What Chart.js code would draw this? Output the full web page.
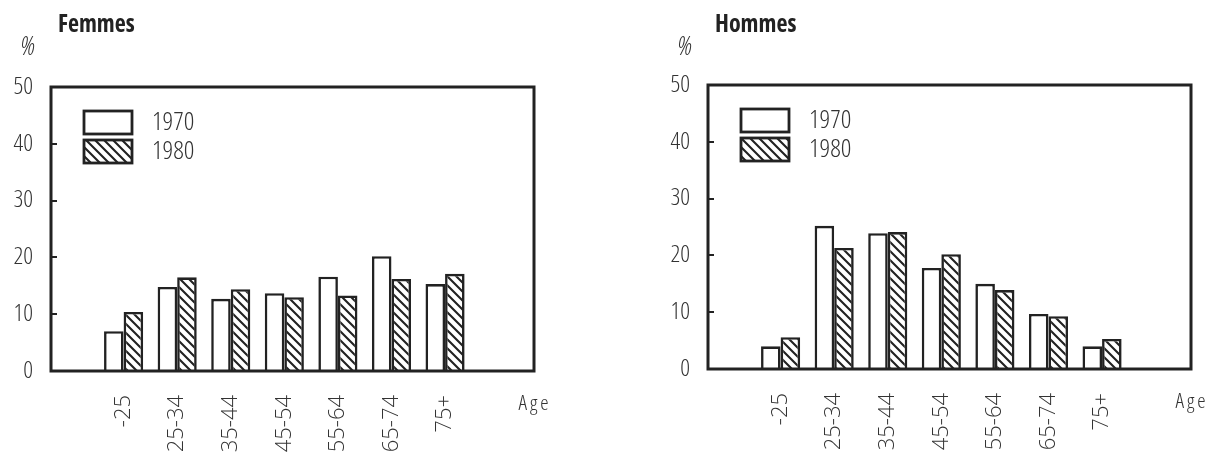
<!DOCTYPE html>
<html>
<head>
<meta charset="utf-8">
<script src="https://cdn.jsdelivr.net/npm/chart.js@4"></script>
<style>
  body { margin: 0; background: #fff; width: 1219px; height: 455px; overflow: hidden; position: relative; }
  .box { position: absolute; top: 0; height: 455px; }
</style>
</head>
<body>
<div class="box" style="left:0;width:620px"><canvas id="femmes"></canvas></div>
<div class="box" style="left:657px;width:562px"><canvas id="hommes"></canvas></div>
<script>
// donnees (%)
const ages = ["-25", "25-34", "35-44", "45-54", "55-64", "65-74", "75+"]
const years = ["1970", "1980"]
const femmes1970 = [7.0, 14.8, 12.7, 13.7, 16.6, 20.2, 15.3]
const femmes1980 = [10.4, 16.5, 14.4, 13.0, 13.3, 16.2, 17.1]
const hommes1970 = [4.0, 25.2, 23.9, 17.8, 15.0, 9.7, 4.0]
const hommes1980 = [5.6, 21.3, 24.1, 20.2, 13.9, 9.3, 5.3]
const yMax = 50
const yStep = 10

const ink = "#222"
const textColor = "#333"
const thin = '"Open Sans", "DejaVu Sans Condensed", sans-serif'

// motif hachure pour 1980
function hatch() {
    const c = document.createElement("canvas")
    c.width = 9
    c.height = 9
    const g = c.getContext("2d")
    g.fillStyle = "#fff"
    g.fillRect(0, 0, 9, 9)
    g.strokeStyle = ink
    g.lineWidth = 2.1
    g.beginPath()
    g.moveTo(-1, -1); g.lineTo(10, 10)
    g.moveTo(-1, 8); g.lineTo(1, 10)
    g.moveTo(8, -1); g.lineTo(10, 1)
    g.stroke()
    return g.createPattern(c, "repeat")
}

// cadre, textes et legende
const decor = {
    id: "decor",
    afterDraw(chart, args, opts) {
        const { ctx, chartArea: a } = chart
        ctx.save()
        ctx.strokeStyle = ink
        ctx.lineWidth = 3
        ctx.strokeRect(a.left, a.top, a.right - a.left, a.bottom - a.top)

        // legende
        chart.data.datasets.forEach((ds, i) => {
            const y = a.top + 24 + i * 29
            ctx.fillStyle = ds.backgroundColor
            ctx.fillRect(a.left + 33, y, 48, 23)
            ctx.lineWidth = 2.8
            ctx.strokeStyle = ink
            ctx.strokeRect(a.left + 33, y, 48, 23)
            ctx.fillStyle = textColor
            ctx.font = "normal 300 condensed 26px " + thin
            ctx.textAlign = "left"
            ctx.textBaseline = "middle"
            ctx.fillText(ds.label, a.left + 101, y + 12)
        })

        ctx.fillStyle = ink
        ctx.font = "normal 700 condensed 24px " + thin
        ctx.textAlign = "left"
        ctx.textBaseline = "alphabetic"
        ctx.fillText(opts.title, a.left + 7, 32)

        ctx.fillStyle = textColor
        ctx.font = "italic 300 condensed 26px " + thin
        ctx.textAlign = "center"
        ctx.fillText("%", a.left - 23, 55)

        ctx.font = "normal 300 semi-condensed 21px " + thin
        ctx.letterSpacing = "3px"
        ctx.fillText("Age", a.right + 1, a.bottom + 39)
        ctx.restore()
    }
}

function makeChart(id, title, v1970, v1980, pad) {
    new Chart(document.getElementById(id), {
        type: "bar",
        data: {
            datasets: [{
                label: years[0],
                data: v1970.map((v, i) => ({ x: i + 1, y: v })),
                backgroundColor: "#fff",
                borderColor: ink,
                borderWidth: 2.6
            }, {
                label: years[1],
                data: v1980.map((v, i) => ({ x: i + 1, y: v })),
                backgroundColor: hatch(),
                borderColor: ink,
                borderWidth: 2.6
            }]
        },
        options: {
            responsive: true,
            maintainAspectRatio: false,
            animation: false,
            layout: { padding: { left: 0, right: pad.right, top: pad.top, bottom: 0 } },
            datasets: { bar: { categoryPercentage: 0.73, barPercentage: 1 } },
            plugins: {
                legend: { display: false },
                tooltip: { enabled: false },
                decor: { title: title }
            },
            scales: {
                x: {
                    type: "linear",
                    min: -0.355,
                    max: 8.66,
                    offset: false,
                    grid: { display: false, drawTicks: false },
                    border: { display: false },
                    ticks: {
                        stepSize: 1,
                        autoSkip: false,
                        includeBounds: false,
                        minRotation: 90,
                        maxRotation: 90,
                        padding: 24,
                        color: textColor,
                        font: { family: thin, size: 22, weight: "300" },
                        callback: v => ages[v - 1] || ""
                    },
                    afterFit: s => { s.height = pad.bottomAxis }
                },
                y: {
                    min: 0,
                    max: yMax,
                    grid: { drawOnChartArea: false, tickLength: -6, color: ink, lineWidth: 2 },
                    border: { display: false },
                    ticks: {
                        stepSize: yStep,
                        padding: 24,
                        color: textColor,
                        font: { family: thin, size: 24, weight: "300 semi-condensed" }
                    },
                    afterFit: s => { s.width = 51 }
                }
            }
        },
        plugins: [decor]
    })
}

makeChart("femmes", "Femmes", femmes1970, femmes1980, { right: 86, top: 87, bottomAxis: 84 })
makeChart("hommes", "Hommes", hommes1970, hommes1980, { right: 28, top: 85, bottomAxis: 86 })
</script>
</body>
</html>
